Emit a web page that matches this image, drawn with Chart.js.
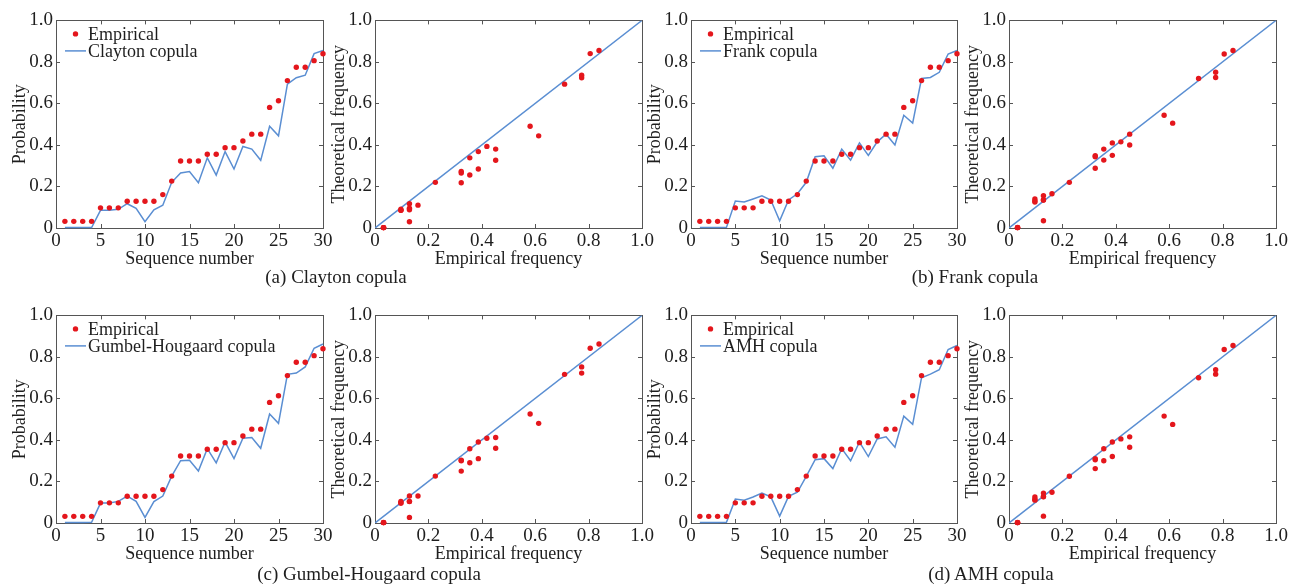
<!DOCTYPE html>
<html>
<head>
<meta charset="utf-8">
<script src="https://cdn.jsdelivr.net/npm/chart.js@4.4.1/dist/chart.umd.min.js"></script>
<style>
    body { margin: 0; background: #fff; }
    #figure { position: relative; width: 1293px; height: 586px; overflow: hidden; background: #fff; }
    #figure canvas { position: absolute; }
    .caption {
        position: absolute;
        font-family: "Liberation Serif", "Times New Roman", serif;
        font-size: 19px;
        color: #1e1e1e;
        white-space: nowrap;
        transform: translate(-50%, -50%);
    }
</style>
</head>
<body>
<div id="figure"></div>
<script>
// data
const sequenceNumbers = [1, 2, 3, 4, 5, 6, 7, 8, 9, 10, 11, 12, 13, 14, 15, 16, 17, 18, 19, 20, 21, 22, 23, 24, 25, 26, 27, 28, 29, 30];
const empirical = [0.032, 0.032, 0.032, 0.032, 0.097, 0.097, 0.097, 0.129, 0.129, 0.129, 0.129, 0.161, 0.226, 0.323, 0.323, 0.323, 0.355, 0.355, 0.387, 0.387, 0.419, 0.452, 0.452, 0.581, 0.613, 0.710, 0.774, 0.774, 0.806, 0.839];
const clayton = [0.002, 0.002, 0.002, 0.002, 0.085, 0.085, 0.090, 0.117, 0.095, 0.030, 0.088, 0.110, 0.220, 0.265, 0.272, 0.218, 0.338, 0.255, 0.368, 0.284, 0.393, 0.380, 0.326, 0.490, 0.444, 0.693, 0.724, 0.736, 0.840, 0.855];
const frank = [0.002, 0.002, 0.002, 0.003, 0.130, 0.125, 0.140, 0.155, 0.135, 0.035, 0.135, 0.165, 0.220, 0.343, 0.348, 0.288, 0.380, 0.327, 0.410, 0.350, 0.415, 0.452, 0.400, 0.543, 0.505, 0.720, 0.725, 0.750, 0.838, 0.855];
const gumbel = [0.002, 0.002, 0.002, 0.003, 0.096, 0.096, 0.104, 0.130, 0.104, 0.027, 0.103, 0.130, 0.226, 0.300, 0.302, 0.250, 0.358, 0.290, 0.390, 0.310, 0.408, 0.412, 0.360, 0.525, 0.480, 0.716, 0.722, 0.752, 0.842, 0.862];
const amh = [0.002, 0.002, 0.002, 0.003, 0.115, 0.110, 0.125, 0.144, 0.126, 0.033, 0.128, 0.148, 0.225, 0.305, 0.310, 0.262, 0.358, 0.300, 0.390, 0.320, 0.405, 0.415, 0.365, 0.515, 0.475, 0.700, 0.717, 0.738, 0.836, 0.855];
const diagonal = [0, 1];

const sequenceTicks = [0, 5, 10, 15, 20, 25, 30];
const sequenceTickLabels = ['0', '5', '10', '15', '20', '25', '30'];
const probabilityTicks = [0, 0.2, 0.4, 0.6, 0.8, 1.0];
const probabilityTickLabels = ['0', '0.2', '0.4', '0.6', '0.8', '1.0'];

const FONT = '"Liberation Serif", "Times New Roman", serif';
const TEXT = '#1e1e1e';
const RED = '#e4161c';
const BLUE = '#5a8ed2';
const FRAME = '#555555';

// canvas margins around each plot area
const AXIS_W = 52, PAD_L = 4, PAD_T = 14, PAD_R = 14, AXIS_H = 44;

const figure = document.getElementById('figure');

const framePlugin = {
    id: 'frame',
    beforeDatasetsDraw(chart) {
        const { ctx, chartArea: a, scales } = chart;
        ctx.save();
        ctx.strokeStyle = FRAME;
        ctx.lineWidth = 1;
        ctx.beginPath();
        scales.x.ticks.forEach((t) => {
            const px = Math.round(scales.x.getPixelForValue(t.value)) + 0.5;
            ctx.moveTo(px, a.bottom); ctx.lineTo(px, a.bottom - 4);
            ctx.moveTo(px, a.top); ctx.lineTo(px, a.top + 4);
        });
        scales.y.ticks.forEach((t) => {
            const py = Math.round(scales.y.getPixelForValue(t.value)) + 0.5;
            ctx.moveTo(a.left, py); ctx.lineTo(a.left + 4, py);
            ctx.moveTo(a.right, py); ctx.lineTo(a.right - 4, py);
        });
        ctx.stroke();
        ctx.strokeRect(Math.round(a.left) + 0.5, Math.round(a.top) + 0.5, Math.round(a.width), Math.round(a.height));
        ctx.restore();
    },
};

const insideLegend = {
    id: 'insideLegend',
    afterDatasetsDraw(chart) {
        const { ctx, chartArea: a } = chart;
        ctx.save();
        ctx.font = `18px ${FONT}`;
        ctx.textBaseline = 'middle';
        chart.data.datasets.forEach((ds, i) => {
            const y = a.top + 13.5 + i * 17;
            if (ds.showLine) {
                ctx.strokeStyle = BLUE;
                ctx.lineWidth = 1.5;
                ctx.beginPath();
                ctx.moveTo(a.left + 9, y);
                ctx.lineTo(a.left + 30, y);
                ctx.stroke();
            } else {
                ctx.fillStyle = RED;
                ctx.beginPath();
                ctx.arc(a.left + 19.5, y, 2.7, 0, Math.PI * 2);
                ctx.fill();
            }
            ctx.fillStyle = TEXT;
            ctx.fillText(ds.label, a.left + 32, y + 1);
        });
        ctx.restore();
    },
};

function axisOptions(kind, min, max, tickValues, tickLabels, title) {
    return {
        type: 'linear',
        min,
        max,
        grid: { display: false, drawTicks: false },
        border: { display: false },
        afterBuildTicks: (scale) => { scale.ticks = tickValues.map((v) => ({ value: v })); },
        afterFit: (scale) => {
            if (kind === 'x') scale.height = AXIS_H;
            else scale.width = AXIS_W;
        },
        ticks: {
            color: TEXT,
            font: { family: FONT, size: 19 },
            padding: kind === 'x' ? 2 : 3,
            maxRotation: 0,
            autoSkip: false,
            callback: (value, index) => tickLabels[index],
        },
        title: {
            display: true,
            text: title,
            color: TEXT,
            font: { family: FONT, size: 18, lineHeight: 1 },
            padding: kind === 'x' ? { top: 0, bottom: 4 } : { top: 7, bottom: 0 },
        },
    };
}

function addPanel(rect, datasets, xAxis, yAxis, withLegend) {
    const canvas = document.createElement('canvas');
    const w = rect.r - rect.l + AXIS_W + PAD_L + PAD_R;
    const h = rect.b - rect.t + PAD_T + AXIS_H;
    canvas.width = w;
    canvas.height = h;
    canvas.style.left = (rect.l - AXIS_W - PAD_L) + 'px';
    canvas.style.top = (rect.t - PAD_T) + 'px';
    canvas.style.width = w + 'px';
    canvas.style.height = h + 'px';
    figure.appendChild(canvas);

    return new Chart(canvas, {
        type: 'scatter',
        data: { datasets },
        options: {
            responsive: false,
            animation: false,
            events: [],
            devicePixelRatio: 1,
            layout: { padding: { left: PAD_L, top: PAD_T, right: PAD_R, bottom: 0 } },
            plugins: { legend: { display: false }, tooltip: { enabled: false } },
            scales: { x: xAxis, y: yAxis },
        },
        plugins: withLegend ? [framePlugin, insideLegend] : [framePlugin],
    });
}

const panels = [
    { name: 'Clayton copula', caption: '(a) Clayton copula', values: clayton, row: 0, col: 0, capX: 336 },
    { name: 'Frank copula', caption: '(b) Frank copula', values: frank, row: 0, col: 1, capX: 975 },
    { name: 'Gumbel-Hougaard copula', caption: '(c) Gumbel-Hougaard copula', values: gumbel, row: 1, col: 0, capX: 369 },
    { name: 'AMH copula', caption: '(d) AMH copula', values: amh, row: 1, col: 1, capX: 991 },
];

const rows = [{ t: 20, b: 228, capY: 277 }, { t: 315, b: 523, capY: 574 }];
const cols = [
    { seq: [56, 323], freq: [375, 642] },
    { seq: [691, 957], freq: [1009, 1276] },
];

panels.forEach((p) => {
    const row = rows[p.row];
    const col = cols[p.col];

    addPanel(
        { l: col.seq[0], r: col.seq[1], t: row.t, b: row.b },
        [
            {
                label: 'Empirical',
                data: sequenceNumbers.map((s, i) => ({ x: s, y: empirical[i] })),
                showLine: false,
                pointRadius: 2.7,
                pointBackgroundColor: RED,
                pointBorderWidth: 0,
                clip: false,
            },
            {
                label: p.name,
                data: sequenceNumbers.map((s, i) => ({ x: s, y: p.values[i] })),
                showLine: true,
                borderColor: BLUE,
                borderWidth: 1.5,
                pointRadius: 0,
                clip: false,
            },
        ],
        axisOptions('x', 0, 30, sequenceTicks, sequenceTickLabels, 'Sequence number'),
        axisOptions('y', 0, 1, probabilityTicks, probabilityTickLabels, 'Probability'),
        true
    );

    addPanel(
        { l: col.freq[0], r: col.freq[1], t: row.t, b: row.b },
        [
            {
                label: 'Fitted',
                data: empirical.map((e, i) => ({ x: e, y: p.values[i] })),
                showLine: false,
                pointRadius: 2.7,
                pointBackgroundColor: RED,
                pointBorderWidth: 0,
                clip: false,
            },
            {
                label: 'Reference',
                data: diagonal.map((d) => ({ x: d, y: d })),
                showLine: true,
                borderColor: BLUE,
                borderWidth: 1.5,
                pointRadius: 0,
            },
        ],
        axisOptions('x', 0, 1, probabilityTicks, probabilityTickLabels, 'Empirical frequency'),
        axisOptions('y', 0, 1, probabilityTicks, probabilityTickLabels, 'Theoretical frequency'),
        false
    );

    const cap = document.createElement('div');
    cap.className = 'caption';
    cap.textContent = p.caption;
    cap.style.left = p.capX + 'px';
    cap.style.top = row.capY + 'px';
    figure.appendChild(cap);
});
</script>
</body>
</html>
